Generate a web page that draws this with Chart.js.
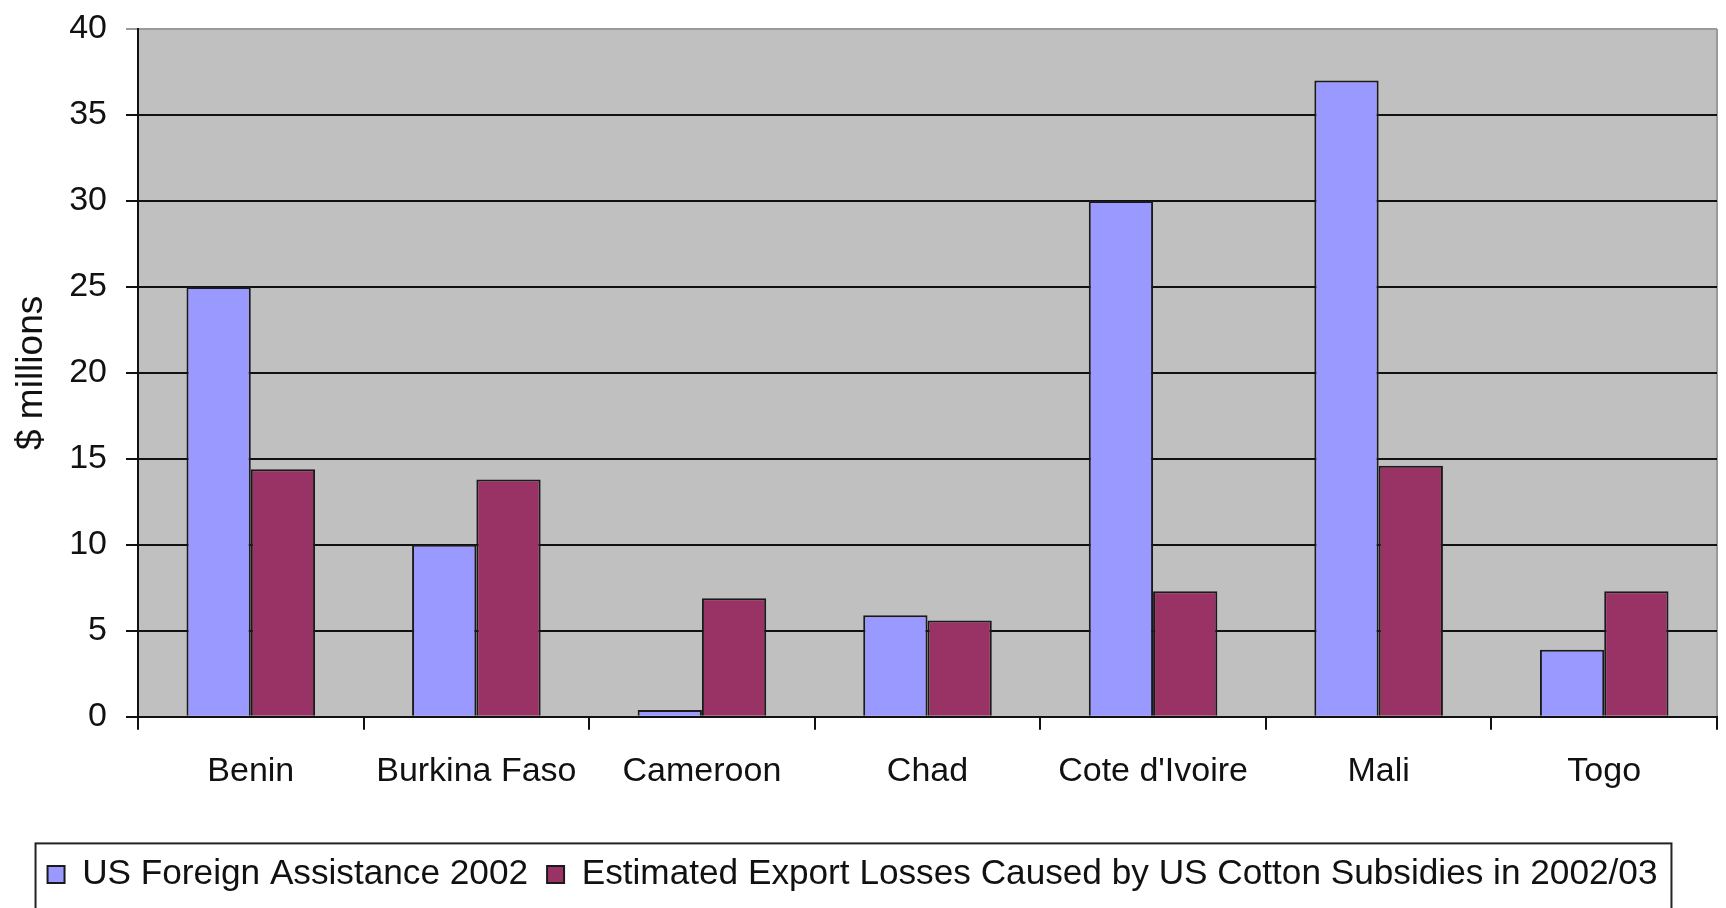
<!DOCTYPE html>
<html>
<head>
<meta charset="utf-8">
<script src="https://cdn.jsdelivr.net/npm/chart.js@4.4.1/dist/chart.umd.min.js"></script>
<style>
html,body{margin:0;padding:0;background:#fff;}
#wrap{width:1726px;height:908px;position:relative;}
</style>
</head>
<body>
<div id="wrap"><canvas id="c" width="1726" height="908"></canvas></div>
<script>
const categories = ["Benin", "Burkina Faso", "Cameroon", "Chad", "Cote d'Ivoire", "Mali", "Togo"];
const seriesNames = ["US Foreign Assistance 2002", "Estimated Export Losses Caused by US Cotton Subsidies in 2002/03"];
const usForeignAssistance = [25, 10, 0.4, 5.9, 30, 37, 3.9];
const exportLosses = [14.4, 13.8, 6.9, 5.6, 7.3, 14.6, 7.3];
const yTicks = [0, 5, 10, 15, 20, 25, 30, 35, 40];
const yTitle = "$ millions";

const FONT = "'Liberation Sans', Arial, sans-serif";

const decor = {
  id: 'decor',
  afterLayout(chart) {
    const lg = chart.legend;
    if (lg) { lg.left -= 6; lg.right -= 6; }
  },
  beforeDraw(chart) {
    const {ctx, chartArea: a} = chart;
    ctx.save();
    ctx.fillStyle = '#c0c0c0';
    ctx.fillRect(a.left, a.top, a.right - a.left, a.bottom - a.top);
    ctx.strokeStyle = '#9a9a9a';
    ctx.lineWidth = 2;
    ctx.beginPath();
    ctx.moveTo(a.right, a.top);
    ctx.lineTo(a.right, a.bottom);
    ctx.stroke();
    ctx.restore();
  },
  afterDraw(chart) {
    const lg = chart.legend;
    if (!lg || !lg.legendHitBoxes || !lg.legendHitBoxes.length) return;
    const hb = lg.legendHitBoxes;
    const left = Math.min(...hb.map(h => h.left)) - 12;
    const right = Math.max(...hb.map(h => h.left + h.width)) + 14;
    const cy = hb[0].top + hb[0].height / 2;
    const top = cy - 31;
    const ctx = chart.ctx;
    ctx.save();
    ctx.strokeStyle = '#222';
    ctx.lineWidth = 2;
    ctx.strokeRect(left, top, right - left, chart.height - top + 20);
    ctx.restore();
  }
};

new Chart(document.getElementById('c'), {
  type: 'bar',
  data: {
    labels: categories,
    datasets: [
      {label: seriesNames[0], data: usForeignAssistance, backgroundColor: '#9999ff', borderColor: '#1a1a1a', borderWidth: 2},
      {label: seriesNames[1], data: exportLosses, backgroundColor: '#993366', borderColor: '#1a1a1a', borderWidth: 2}
    ]
  },
  options: {
    responsive: false,
    animation: false,
    devicePixelRatio: 1,
    layout: {padding: {top: 29, right: 9, left: 0, bottom: 6}},
    datasets: {bar: {categoryPercentage: 0.57, barPercentage: 1.0}},
    plugins: {
      legend: {
        position: 'bottom',
        labels: {
          font: {family: FONT, size: 35.2},
          color: '#111',
          boxWidth: 17,
          boxHeight: 17,
          padding: 19
        }
      },
      tooltip: {enabled: false},
      title: {display: false}
    },
    scales: {
      x: {
        offset: true,
        grid: {display: true, drawOnChartArea: false, drawTicks: true, tickLength: 13, color: '#111', lineWidth: 2, offset: true},
        border: {display: true, color: '#111', width: 2},
        ticks: {font: {family: FONT, size: 34}, color: '#111', padding: 21, maxRotation: 0, autoSkip: false},
        afterFit(scale) { scale.height = 121; }
      },
      y: {
        min: 0,
        max: 40,
        afterBuildTicks(scale) { scale.ticks = yTicks.map(v => ({value: v})); },
        grid: {
          drawTicks: true,
          tickLength: 12,
          lineWidth: 2,
          color: (c) => (c.tick && c.tick.value === 40) ? '#9a9a9a' : '#111'
        },
        border: {display: true, color: '#111', width: 2},
        ticks: {font: {family: FONT, size: 34}, color: '#111', padding: 19},
        title: {display: true, text: yTitle, font: {family: FONT, size: 37}, color: '#111', padding: {top: 10, bottom: 0}},
        afterFit(scale) { scale.width = 138; scale.paddingTop = 0; scale.paddingBottom = 0; }
      }
    }
  },
  plugins: [decor]
});
</script>
</body>
</html>
